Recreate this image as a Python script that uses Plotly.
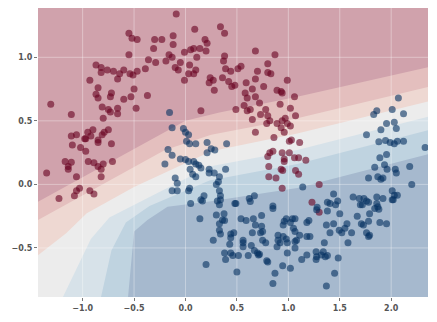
import plotly.graph_objects as go

# ---------------- data ----------------
x_range = [-1.434, 2.358]
y_range = [-0.886, 1.388]
x_ticks = [-1.0, -0.5, 0.0, 0.5, 1.0, 1.5, 2.0]
y_ticks = [-0.5, 0.0, 0.5, 1.0]

# class 0 (upper moon, red)
red_x = [-0.55, -0.52, -0.47, -0.30, -0.23, -0.31, -0.55, -0.36, -0.39, -0.29, -0.19, -0.87, -0.82, -0.82,
         -0.76, -0.70, -0.64, -0.66, -0.60, -0.54, -0.51, -0.47, -0.93, -0.85, -0.87, -0.85, -0.73, -0.72,
         -0.60, -0.53, -0.50, -0.37, -1.31,
         -0.81, -0.75, -0.73, -0.66, -0.66, -0.48,
         -1.11, -0.80, -0.95, -0.90, -0.97, -0.92, -0.79, -0.75, -0.81, -1.11, -1.06, -0.98, -0.85, -0.85,
         -0.72, -1.10, -1.02, -0.97, -1.17, -1.11, -1.14, -1.14, -0.945, -0.89, -0.85, -0.82, -0.80, -0.71,
         -1.35, -1.06, -0.82, -1.03, -1.06, -0.93, -0.89, -1.23, -1.08,
         -0.09, 0.09, 0.34, 0.38, -0.12, -0.12, 0.19, 0.21, -0.16, -0.13, -0.01, 0.05, 0.08, 0.14, 0.20, 0.11,
         0.68, 0.87, 0.38, 0.37, -0.05, -0.10, -0.07, 0.04, 0.10, 0.08, 0.03, -0.01, 0.39, 0.44, 0.51, 0.54,
         0.80, 0.70, 0.68, 0.80, 0.83, 0.99, 0.36, 0.24, 0.27, 0.23, 0.28, 0.42, 0.45, 0.48, 0.59, 0.76,
         0.65, 0.58, 0.60, 0.68, 0.72, 0.89, 0.93, 0.94, 1.06, 0.57, 0.92, 1.02,
         0.15, 0.49, 0.60, 0.63, 0.73, 0.78, 0.80, 0.82, 0.79, 0.65, 0.89, 0.94, 0.97, 0.99, 1.02, 0.93,
         0.96, 1.01, 1.03, 0.86, 0.68, 1.07, 0.82, 0.85, 0.80, 0.94, 0.96, 0.96, 1.06, 0.93, 0.81, 0.88, 0.94,
         1.11, 1.10, 1.17, 1.10, 1.30, 1.23, 1.30, 1.07, 0.81, 0.945, 1.01]
red_y = [1.19, 1.15, 1.14, 1.14, 1.14, 1.07, 1.02, 0.98, 0.91, 0.96, 0.97, 0.94, 0.92, 0.88,
         0.90, 0.89, 0.87, 0.83, 0.90, 0.87, 0.86, 0.89, 0.82, 0.76, 0.71, 0.68, 0.69, 0.72,
         0.67, 0.69, 0.75, 0.70, 0.63,
         0.61, 0.59, 0.57, 0.60, 0.555, 0.60,
         0.55, 0.52, 0.41, 0.43, 0.36, 0.38, 0.41, 0.43, 0.39, 0.38, 0.39, 0.36, 0.35, 0.33,
         0.32, 0.31, 0.29, 0.26, 0.18, 0.175, 0.14, 0.12, 0.18, 0.17, 0.14, 0.12, 0.16, 0.18,
         0.09, 0.06, 0.06, -0.03, -0.05, -0.05, -0.075, -0.11, -0.09,
         1.34, 1.22, 1.24, 1.19, 1.17, 1.10, 1.14, 1.11, 1.02, 1.00, 1.04, 1.06, 1.07, 1.07, 1.05, 1.00,
         1.05, 1.02, 1.01, 0.97, 0.96, 0.92, 0.90, 0.94, 0.90, 0.87, 0.87, 0.82, 0.91, 0.89, 0.91, 0.93,
         0.95, 0.89, 0.83, 0.88, 0.87, 0.82, 0.84, 0.84, 0.82, 0.80, 0.74, 0.81, 0.77, 0.78, 0.80, 0.77,
         0.75, 0.72, 0.68, 0.69, 0.64, 0.74, 0.73, 0.72, 0.69, 0.62, 0.63, 0.60,
         0.58, 0.59, 0.58, 0.59, 0.55, 0.59, 0.54, 0.50, 0.48, 0.51, 0.48, 0.50, 0.52, 0.48, 0.46, 0.445,
         0.41, 0.34, 0.35, 0.37, 0.41, 0.54, 0.25, 0.26, 0.22, 0.25, 0.20, 0.18, 0.21, 0.12, 0.06, 0.05, -0.03,
         0.33, 0.21, 0.19, 0.08, 0.00, -0.14, -0.22, 0.11, 0.14, 0.11, 0.25]

# class 1 (lower moon, blue)
blue_x = [-0.155, -0.13, -0.02, 0.00, 0.03, 0.01, 0.10, 0.21, 0.40, 0.285, 0.21, -0.17, -0.13, -0.05, 0.00,
          0.03, 0.08, 0.10, 0.13, 0.15, 0.045, 0.07, 0.10, 0.23, 0.23, 0.28, 0.33, 0.39, -0.10, -0.08, -0.13,
          -0.08, 0.04, 0.03, 0.15, 0.18, 0.165, 0.05, 0.33, 0.34, 0.31, 0.34, 0.49, 0.62, 0.67, 0.85, 0.04,
          0.25, -0.20, 0.32, 0.30,
          0.14, 0.30, 0.375, 0.38, 0.33, 0.33, 0.34, 0.27, 0.44, 0.43, 0.44, 0.39, 0.20, 0.33,
          0.44, 0.46, 0.38, 0.48, 0.36,
          0.63, 0.85, 0.74, 0.54, 0.59, 0.66, 0.68, 0.74, 0.75, 0.73, 0.65, 0.78, 0.47, 0.56, 0.56, 0.64,
          0.67, 0.70, 0.72, 0.61, 0.515, 0.80, 0.50, 0.87, 0.85, 0.945, 1.02, 0.96, 0.98, 1.04, 1.065, 0.95,
          1.02, 1.05, 1.065, 1.11, 1.08, 1.065, 0.99, 0.98, 0.90, 0.90, 0.92, 0.89, 0.95, 0.99, 1.065, 1.13,
          1.18, 1.20, 1.18, 1.21, 1.18, 1.27, 1.275, 1.32, 1.34, 1.36, 1.35, 1.27, 1.38, 1.485, 1.45, 1.37,
          1.275, 1.38, 1.405, 1.37, 1.405, 1.44, 1.50, 1.495, 1.52, 1.57, 1.55, 1.615, 1.58, 1.67, 1.71, 1.73,
          1.78, 1.79, 1.76, 1.78, 1.79, 1.89, 1.955, 1.84, 1.87, 1.70, 2.02, 0.56, 0.75, 0.71, 0.79,
          1.86, 1.83, 2.01, 2.12, 2.07, 1.955, 1.76, 1.90, 2.03, 2.05, 1.88, 1.945, 1.99, 2.03, 2.06, 2.12,
          2.33, 1.955, 1.89, 1.84, 1.935, 1.96, 2.04, 2.05, 2.18, 1.78, 1.87, 1.90, 1.92, 2.20, 1.14, 1.44,
          1.48, 1.38, 1.46, 1.63, 1.69, 1.735, 1.76, 1.78, 1.72, 1.86, 1.86, 1.92, 2.01, 2.03, 2.06, 2.01,
          1.28, 1.88]
blue_y = [0.565, 0.445, 0.44, 0.41, 0.39, 0.34, 0.32, 0.33, 0.32, 0.27, 0.25, 0.275, 0.23, 0.20, 0.195,
          0.18, 0.18, 0.16, 0.15, 0.13, 0.12, 0.08, 0.06, 0.12, 0.09, 0.09, 0.06, 0.12, 0.05, 0.01, -0.05,
          -0.05, -0.03, -0.05, -0.12, -0.09, -0.13, -0.15, -0.05, -0.09, -0.13, -0.12, -0.15, -0.11, -0.09, -0.17, 0.32,
          0.28, 0.16, 0.02, 0.00,
          -0.27, -0.24, -0.23, -0.285, -0.31, -0.36, -0.39, -0.44, -0.39, -0.47, -0.54, -0.59, -0.63, -0.16,
          -0.42, -0.56, -0.54, -0.15, -0.28,
          -0.135, -0.19, -0.245, -0.27, -0.285, -0.27, -0.32, -0.33, -0.37, -0.38, -0.38, -0.46, -0.38, -0.46, -0.49, -0.48,
          -0.52, -0.54, -0.55, -0.56, -0.56, -0.61, -0.69, -0.70, -0.78, -0.64, -0.66, -0.29, -0.27, -0.27, -0.27, -0.32,
          -0.30, -0.345, -0.37, -0.40, -0.44, -0.45, -0.46, -0.43, -0.40, -0.44, -0.46, -0.49, -0.41, -0.54, -0.50, -0.59,
          -0.30, -0.285, -0.41, -0.41, -0.555, -0.53, -0.57, -0.555, -0.53, -0.57, -0.46, -0.59, -0.56, -0.58, -0.70, -0.80,
          -0.20, -0.21, -0.15, -0.32, -0.38, -0.31, -0.23, -0.36, -0.38, -0.31, -0.345, -0.38, -0.46, -0.25, -0.31, -0.32,
          -0.29, -0.23, -0.38, -0.41, -0.40, -0.30, -0.31, -0.19, -0.175, -0.16, -0.12, -0.44, -0.44, -0.555, -0.60,
          0.58, 0.55, 0.59, 0.555, 0.68, 0.48, 0.39, 0.43, 0.49, 0.44, 0.335, 0.345, 0.33, 0.32, 0.34, 0.34,
          0.29, 0.235, 0.21, 0.135, 0.155, 0.12, 0.12, 0.09, 0.14, 0.05, 0.06, 0.04, 0.05, 0.00, -0.02, -0.075,
          -0.13, -0.14, -0.16, -0.10, -0.11, -0.11, -0.13, -0.14, -0.16, -0.10, -0.15, -0.11, -0.05, -0.085, -0.085, -0.12,
          -0.18, -0.195]

# decision-function contour boundaries (top band -> bottom band)
level1_x = [-1.50, 0.00, 0.33, 1.087, 2.40]
level1_y = [-0.165, 0.50, 0.565, 0.69, 0.93]
level2_x = [-1.50, -0.20, 0.25, 1.087, 2.40]
level2_y = [-0.31, 0.27, 0.39, 0.52, 0.775]
level3_x = [-1.50, -1.16, -0.96, -0.50, 0.25, 1.087, 2.40]
level3_y = [-0.60, -0.384, -0.227, -0.02, 0.26, 0.40, 0.66]
level4_x = [-1.20, -0.92, -0.74, -0.45, 0.233, 1.087, 2.40]
level4_y = [-0.90, -0.43, -0.26, -0.14, 0.14, 0.27, 0.54]
level5_x = [-0.825, -0.72, -0.58, -0.35, 0.233, 1.087, 2.40]
level5_y = [-0.90, -0.52, -0.30, -0.17, 0.03, 0.16, 0.435]
level6_x = [-0.56, -0.50, -0.37, -0.175, 0.233, 1.087, 2.40]
level6_y = [-0.90, -0.37, -0.28, -0.175, -0.135, -0.028, 0.245]

band_colors = ["rgb(208,162,172)", "rgb(228,191,190)", "rgb(238,216,210)", "rgb(236,236,236)",
               "rgb(215,226,233)", "rgb(191,211,224)", "rgb(166,185,206)"]

# ---------------- figure ----------------
fig = go.Figure()

levels = [(level1_x, level1_y), (level2_x, level2_y), (level3_x, level3_y),
          (level4_x, level4_y), (level5_x, level5_y), (level6_x, level6_y)]
for k, (lx, ly) in enumerate(levels):
    px = list(lx) + [2.45, -1.55]
    py = list(ly) + [-0.95, -0.95]
    fig.add_trace(go.Scatter(x=px, y=py, mode="lines", fill="toself",
                             fillcolor=band_colors[k + 1], line=dict(width=0),
                             hoverinfo="skip", showlegend=False))

# grid lines (drawn over the filled contours, under the points)
gx, gy = [], []
for t in x_ticks:
    gx += [t, t, None]
    gy += [y_range[0], y_range[1], None]
for t in y_ticks:
    gx += [x_range[0], x_range[1], None]
    gy += [t, t, None]
fig.add_trace(go.Scatter(x=gx, y=gy, mode="lines",
                         line=dict(color="rgba(255,255,255,0.35)", width=1),
                         hoverinfo="skip", showlegend=False))

fig.add_trace(go.Scatter(x=red_x, y=red_y, mode="markers",
                         marker=dict(size=7, color="#67001f", opacity=0.6, line=dict(width=0)),
                         showlegend=False))
fig.add_trace(go.Scatter(x=blue_x, y=blue_y, mode="markers",
                         marker=dict(size=7, color="#053061", opacity=0.6, line=dict(width=0)),
                         showlegend=False))

tick_font = dict(family="DejaVu Sans", size=8, color="#555555", weight="bold")
fig.update_layout(
    width=437, height=322,
    margin=dict(l=38, r=9, t=8, b=25),
    paper_bgcolor="white",
    plot_bgcolor=band_colors[0],
    showlegend=False,
    xaxis=dict(range=x_range, tickvals=x_ticks, tickformat=".1f", showgrid=False, zeroline=False,
               showline=False, ticks="outside", ticklen=3, tickcolor="#777777", tickfont=tick_font),
    yaxis=dict(range=y_range, tickvals=y_ticks, tickformat=".1f", showgrid=False, zeroline=False,
               showline=False, ticks="outside", ticklen=3, tickcolor="#777777", tickfont=tick_font),
)

fig.write_html("out.html")
